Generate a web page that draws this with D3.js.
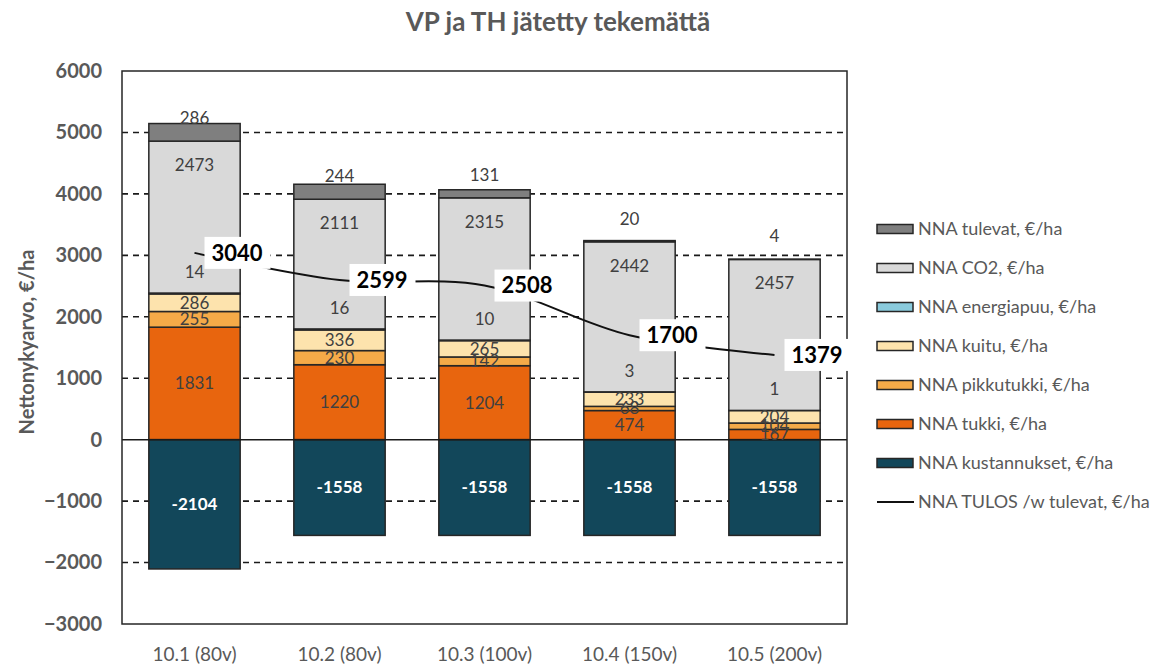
<!DOCTYPE html>
<html lang="fi">
<head>
    <meta charset="utf-8">
    <style>
        body { margin: 0; background: #fff; }
        svg { display: block; }
        text { font-family: Lato, "Open Sans", sans-serif; }
    </style>
</head>
<body>
    <svg width="1153" height="669"></svg>
    <script src="https://cdn.jsdelivr.net/npm/d3@7"></script>
    <script>
        /************************************************************************************
        * Data
        ************************************************************************************/
        const categories = ["10.1 (80v)", "10.2 (80v)", "10.3 (100v)", "10.4 (150v)", "10.5 (200v)"];
        const kustannukset = [-2104, -1558, -1558, -1558, -1558];
        const tukki = [1831, 1220, 1204, 474, 167];
        const pikkutukki = [255, 230, 142, 68, 104];
        const kuitu = [286, 336, 265, 233, 204];
        const energiapuu = [14, 16, 10, 3, 1];
        const co2 = [2473, 2111, 2315, 2442, 2457];
        const tulevat = [286, 244, 131, 20, 4];
        const tulos = [3040, 2599, 2508, 1700, 1379];
        const yTicks = [-3000, -2000, -1000, 0, 1000, 2000, 3000, 4000, 5000, 6000];

        // Stacked series, bottom to top (kustannukset goes below zero)
        const series = [
            { name: "NNA tukki, €/ha", values: tukki, color: "#e8650e", label: "center" },
            { name: "NNA pikkutukki, €/ha", values: pikkutukki, color: "#f5aa48", label: "center" },
            { name: "NNA kuitu, €/ha", values: kuitu, color: "#fde3ad", label: "center" },
            { name: "NNA energiapuu, €/ha", values: energiapuu, color: "#8acbdd", label: "above" },
            { name: "NNA CO2, €/ha", values: co2, color: "#d9d9d9", label: "insideEnd" },
            { name: "NNA tulevat, €/ha", values: tulevat, color: "#7f7f7f", label: "overBase" }
        ];
        const negSeries = { name: "NNA kustannukset, €/ha", values: kustannukset, color: "#12475a" };

        const legendItems = [
            series[5], series[4], series[3], series[2], series[1], series[0], negSeries,
            { name: "NNA TULOS /w tulevat, €/ha", line: true }
        ];

        const svg = d3.select("svg");
        const textColor = "#595959";

        const plot = { left: 122, right: 847, top: 71, bottom: 624 };

        const x = d3.scaleBand()
            .domain(categories)
            .range([plot.left, plot.right])
            .paddingInner(0.37)
            .paddingOuter(0.185);
        const y = d3.scaleLinear().domain([-3000, 6000]).range([plot.bottom, plot.top]);

        /************************************************************************************
        * Title & axis titles
        ************************************************************************************/
        svg.append("text")
            .attr("x", 558).attr("y", 31)
            .attr("text-anchor", "middle")
            .attr("font-size", 26).attr("font-weight", "bold")
            .attr("fill", textColor)
            .text("VP ja TH jätetty tekemättä");

        svg.append("text")
            .attr("transform", "translate(34, 342) rotate(-90)")
            .attr("text-anchor", "middle")
            .attr("font-size", 20).attr("font-weight", "bold")
            .attr("fill", textColor)
            .text("Nettonykyarvo, €/ha");

        /************************************************************************************
        * Grid & axes
        ************************************************************************************/
        svg.append("g")
            .selectAll("line")
            .data(yTicks.filter(d => d !== 0 && d !== 6000 && d !== -3000))
            .join("line")
            .attr("x1", plot.left).attr("x2", plot.right)
            .attr("y1", d => y(d)).attr("y2", d => y(d))
            .attr("stroke", "#1a1a1a")
            .attr("stroke-width", 1.6)
            .attr("stroke-dasharray", "6,5");

        const yAxis = svg.append("g")
            .attr("transform", `translate(${plot.left}, 0)`)
            .call(d3.axisLeft(y).tickValues(yTicks).tickFormat(d3.format("d")).tickSize(0).tickPadding(20));
        yAxis.select(".domain").remove();
        yAxis.selectAll("text")
            .attr("font-family", "Lato, sans-serif")
            .attr("font-size", 20).attr("font-weight", "bold")
            .attr("fill", textColor);

        const xAxis = svg.append("g")
            .attr("transform", `translate(0, ${plot.bottom})`)
            .call(d3.axisBottom(x).tickSize(0).tickPadding(24));
        xAxis.select(".domain").remove();
        xAxis.selectAll("text")
            .attr("font-family", "Lato, sans-serif")
            .attr("font-size", 19)
            .attr("fill", textColor);

        /************************************************************************************
        * Bars
        ************************************************************************************/
        const bars = svg.append("g");
        const labels = [];
        categories.forEach((cat, i) => {
            let base = 0;
            series.forEach(s => {
                const v = s.values[i];
                const y0 = y(base), y1 = y(base + v);
                bars.append("rect")
                    .attr("x", x(cat)).attr("width", x.bandwidth())
                    .attr("y", y1).attr("height", y0 - y1)
                    .attr("fill", s.color)
                    .attr("stroke", "#262626").attr("stroke-width", 1.5);
                let ly = (y0 + y1) / 2;
                if (s.label === "above") ly = y1 - 21;
                if (s.label === "insideEnd") ly = y1 + 24;
                if (s.label === "overBase") ly = y0 - 23;
                labels.push({ x: x(cat) + x.bandwidth() / 2, y: ly, text: v, color: "#404040", bold: false });
                base += v;
            });
            const n = negSeries.values[i];
            bars.append("rect")
                .attr("x", x(cat)).attr("width", x.bandwidth())
                .attr("y", y(0)).attr("height", y(n) - y(0))
                .attr("fill", negSeries.color)
                .attr("stroke", "#262626").attr("stroke-width", 1.5);
            labels.push({ x: x(cat) + x.bandwidth() / 2, y: (y(0) + y(n)) / 2, text: n, color: "#fff", bold: true });
        });

        // Zero line
        svg.append("line")
            .attr("x1", plot.left).attr("x2", plot.right)
            .attr("y1", y(0)).attr("y2", y(0))
            .attr("stroke", "#1a1a1a").attr("stroke-width", 1.5);

        // Plot frame
        svg.append("rect")
            .attr("x", plot.left).attr("y", plot.top)
            .attr("width", plot.right - plot.left).attr("height", plot.bottom - plot.top)
            .attr("fill", "none")
            .attr("stroke", "#262626").attr("stroke-width", 1.5);

        svg.append("g")
            .selectAll("text")
            .data(labels)
            .join("text")
            .attr("x", d => d.x).attr("y", d => d.y)
            .attr("dy", "0.35em")
            .attr("text-anchor", "middle")
            .attr("font-size", 17)
            .attr("font-weight", d => d.bold ? "bold" : "normal")
            .attr("fill", d => d.color)
            .text(d => d.text);

        /************************************************************************************
        * TULOS line
        ************************************************************************************/
        const linePoints = categories.map((c, i) => ({ x: x(c) + x.bandwidth() / 2, y: y(tulos[i]), v: tulos[i] }));
        svg.append("path")
            .datum(linePoints)
            .attr("fill", "none")
            .attr("stroke", "#111")
            .attr("stroke-width", 2)
            .attr("d", d3.line().x(d => d.x).y(d => d.y).curve(d3.curveCatmullRom.alpha(0.5)));

        const tLabels = svg.append("g").selectAll("g").data(linePoints).join("g")
            .attr("transform", d => `translate(${d.x + 10}, ${d.y})`);
        tLabels.append("rect")
            .attr("x", 0).attr("y", -16)
            .attr("width", 66).attr("height", 32)
            .attr("fill", "#fff");
        tLabels.append("text")
            .attr("x", 7).attr("dy", "0.36em")
            .attr("font-size", 22).attr("font-weight", "bold")
            .attr("fill", "#000")
            .text(d => d.v);

        /************************************************************************************
        * Legend
        ************************************************************************************/
        const legend = svg.append("g").selectAll("g").data(legendItems).join("g")
            .attr("transform", (d, i) => `translate(877, ${229 + i * 39})`);
        legend.filter(d => !d.line).append("rect")
            .attr("x", 0).attr("y", -4.5)
            .attr("width", 36).attr("height", 9)
            .attr("fill", d => d.color)
            .attr("stroke", "#262626").attr("stroke-width", 1.5);
        legend.filter(d => d.line).append("line")
            .attr("x1", 0).attr("x2", 37)
            .attr("stroke", "#111").attr("stroke-width", 2);
        legend.append("text")
            .attr("x", 41).attr("dy", "0.35em")
            .attr("font-size", 18)
            .attr("fill", textColor)
            .text(d => d.name);
    </script>
</body>
</html>
